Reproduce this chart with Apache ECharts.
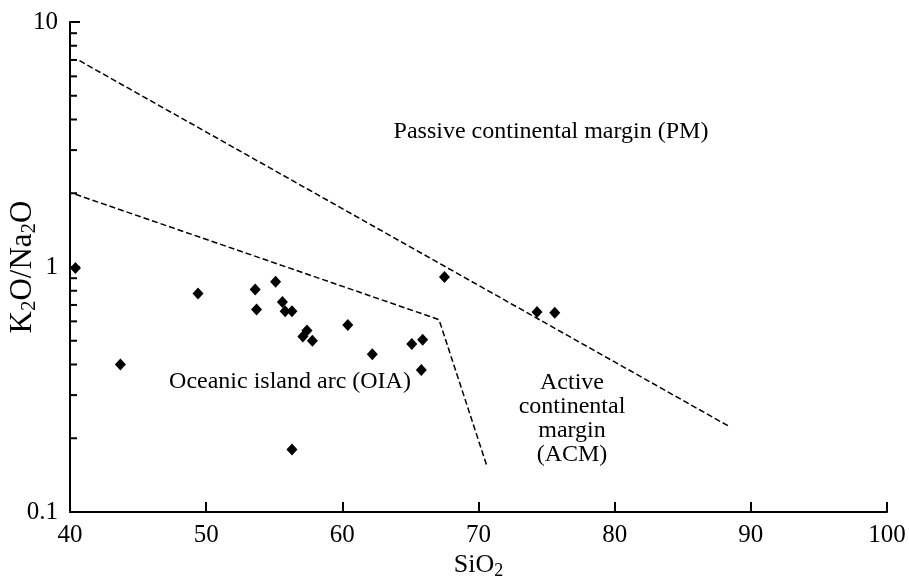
<!DOCTYPE html>
<html>
<head>
<meta charset="utf-8">
<script src="https://cdn.jsdelivr.net/npm/echarts@6/dist/echarts.min.js"></script>
<style>
  html, body { margin: 0; padding: 0; background: #fff; }
  #c1 { width: 909px; height: 579px; }
</style>
</head>
<body>
<div id="c1"></div>
<script>
// 样品点 SiO2 vs K2O/Na2O
var sio2 = [40.4, 43.7, 49.4, 53.6, 53.7, 55.1, 55.6, 55.8, 56.3, 57.1, 57.4, 57.8, 60.4, 62.2, 65.1, 65.9, 65.8, 56.3, 67.5, 74.3, 75.6]
var k2oNa2o = [0.99, 0.40, 0.78, 0.81, 0.67, 0.87, 0.72, 0.66, 0.66, 0.52, 0.55, 0.50, 0.58, 0.44, 0.485, 0.505, 0.38, 0.18, 0.91, 0.655, 0.65]

// 分区界线
var pmLineX = [40.7, 88.5]
var pmLineY = [6.95, 0.222]
var oiaLineX = [40.4, 67.1, 70.6]
var oiaLineY = [1.98, 0.61, 0.155]

// 对数轴次刻度
var minorTicks = [0.2, 0.3, 0.4, 0.5, 0.6, 0.7, 0.8, 0.9, 2, 3, 4, 5, 6, 7, 8, 9]

var font = '"Liberation Serif", "Times New Roman", serif'
var zip = function (xs, ys) { return xs.map(function (x, i) { return [x, ys[i]] }) }

var myChart = echarts.init(document.getElementById('c1'))
var option = {
  backgroundColor: '#fff',
  animation: false,
  textStyle: { fontFamily: font },
  grid: {
    left: 70,
    right: 22,
    top: 22,
    bottom: 67,
    containLabel: false,
    outerBoundsMode: 'none'
  },
  xAxis: {
    type: 'value',
    min: 40,
    max: 100,
    interval: 10,
    name: 'SiO{sub|2}',
    nameLocation: 'middle',
    nameGap: 38,
    nameMoveOverlap: false,
    nameTextStyle: {
      fontFamily: font,
      fontSize: 26,
      color: '#000',
      rich: {
        sub: { fontFamily: font, fontSize: 18, color: '#000', padding: [12, 0, 0, 0] }
      }
    },
    splitLine: { show: false },
    axisLine: { lineStyle: { color: '#000', width: 2 } },
    axisTick: { inside: true, length: 10, lineStyle: { color: '#000', width: 2 } },
    axisLabel: { fontFamily: font, fontSize: 25, color: '#000', margin: 11 }
  },
  yAxis: {
    type: 'log',
    logBase: 10,
    min: 0.1,
    max: 10,
    name: 'K{sub|2}O/Na{sub|2}O',
    nameLocation: 'middle',
    nameRotate: 90,
    nameGap: 30,
    nameMoveOverlap: false,
    nameTextStyle: {
      fontFamily: font,
      fontSize: 31,
      color: '#000',
      rich: {
        sub: { fontFamily: font, fontSize: 21, color: '#000', padding: [14, 0, 0, 0] }
      }
    },
    splitLine: { show: false },
    axisLine: { show: true, lineStyle: { color: '#000', width: 2 } },
    axisTick: { show: true, inside: true, length: 10, lineStyle: { color: '#000', width: 2 } },
    axisLabel: {
      fontFamily: font,
      fontSize: 25,
      color: '#000',
      margin: 12,
      formatter: function (v) { return String(v) }
    }
  },
  series: [
    {
      type: 'custom',
      silent: true,
      clip: false,
      z: 3,
      data: minorTicks.map(function (v) { return [40, v] }),
      renderItem: function (params, api) {
        var p = api.coord([api.value(0), api.value(1)])
        return {
          type: 'line',
          shape: { x1: p[0], y1: p[1], x2: p[0] + 7, y2: p[1] },
          style: { stroke: '#000', lineWidth: 2 }
        }
      }
    },
    {
      type: 'line',
      data: zip(pmLineX, pmLineY),
      showSymbol: false,
      silent: true,
      lineStyle: { color: '#000', width: 1.5, type: [6, 3] }
    },
    {
      type: 'line',
      data: zip(oiaLineX, oiaLineY),
      showSymbol: false,
      silent: true,
      lineStyle: { color: '#000', width: 1.5, type: [6, 3] }
    },
    {
      type: 'scatter',
      data: zip(sio2, k2oNa2o),
      symbol: 'diamond',
      symbolSize: [11, 12],
      clip: false,
      z: 5,
      itemStyle: { color: '#000', opacity: 1 }
    }
  ],
  graphic: [
    {
      type: 'text',
      x: 551,
      y: 132,
      style: { text: 'Passive continental margin (PM)', font: '24px ' + font, fill: '#000', align: 'center', verticalAlign: 'middle' }
    },
    {
      type: 'text',
      x: 290,
      y: 382,
      style: { text: 'Oceanic island arc (OIA)', font: '24px ' + font, fill: '#000', align: 'center', verticalAlign: 'middle' }
    },
    {
      type: 'text',
      x: 572,
      y: 419,
      style: { text: 'Active\ncontinental\nmargin\n(ACM)', font: '24px ' + font, fill: '#000', align: 'center', verticalAlign: 'middle', lineHeight: 24 }
    }
  ]
}
option && myChart.setOption(option)
</script>
</body>
</html>
